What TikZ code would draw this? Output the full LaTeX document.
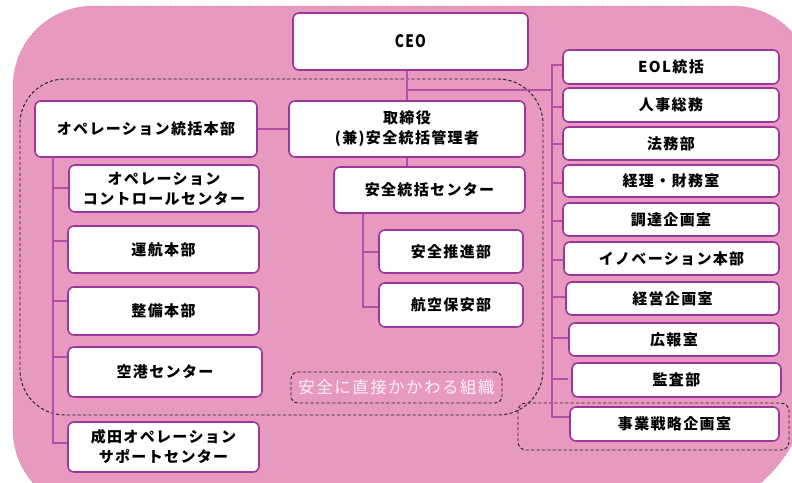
\documentclass[tikz,border=0pt]{standalone}
\usepackage{fontspec}
\usepackage{graphicx}
\setmainfont{Noto Sans CJK JP}
\newfontfamily\jp{Noto Sans CJK JP}[LetterSpace=9]
\definecolor{bgpink}{RGB}{232,153,192}
\definecolor{bgedge}{RGB}{212,128,172}
\definecolor{boxc}{RGB}{155,55,155}
\definecolor{linkc}{RGB}{176,80,168}
\definecolor{labc}{RGB}{253,240,247}
\definecolor{dashc}{RGB}{40,30,40}
\tikzset{
  box/.style={draw=boxc, line width=1.6pt, fill=white, rounded corners=6pt,
    inner sep=0pt, align=center, text=black,
    font=\jp\bfseries\fontsize{15}{20}\selectfont},
  link/.style={draw=linkc, line width=1.1pt},
  dashbox/.style={draw=dashc, line width=0.95pt, dash pattern=on 3.2pt off 2.2pt},
  labbox/.style={dashbox, rounded corners=7pt, inner sep=0pt, text=labc,
    font=\jp\fontsize{16.5}{20}\selectfont}
}
\begin{document}
\begin{tikzpicture}[x=1pt,y=-1pt]
\useasboundingbox (0,0) rectangle (792,482);
% background
\path[fill=bgpink, draw=bgedge, line width=0.7pt, dotted]
  (13,86) arc (180:270:80) -- (733,6) arc (270:360:80) -- (813,367)
  arc (0:90:155) -- (93,510) arc (90:180:80) -- cycle;
% dashed groups
\draw[dashbox, rounded corners=45pt] (20,79) rectangle (543,415);
\draw[dashbox, rounded corners=8pt] (518,403) rectangle (789,450);
\node[labbox, minimum width=211pt, minimum height=31pt] (lab) at (396.5,387.5) {安全に直接かかわる組織};
% nodes
\node[box, minimum width=235pt, minimum height=57pt] (ceo) at (410.5,41.5)
  {\resizebox{!}{13pt}{\scalebox{0.8}[1]{\bfseries CEO}}};
\node[box, minimum width=222pt, minimum height=56pt] (ops) at (146,129) {オペレーション統括本部};
\node[box, minimum width=236pt, minimum height=56pt] (tori) at (407,129) {取締役\\(兼)安全統括管理者};
\node[box, minimum width=190pt, minimum height=47pt] (occ) at (164,188.5) {オペレーション\\コントロールセンター};
\node[box, minimum width=191pt, minimum height=47pt] (unko) at (163.5,249.5) {運航本部};
\node[box, minimum width=191pt, minimum height=48pt] (seibi) at (163.5,311) {整備本部};
\node[box, minimum width=194pt, minimum height=50pt] (kuko) at (165,372) {空港センター};
\node[box, minimum width=191pt, minimum height=50pt] (narita) at (163.5,447) {成田オペレーション\\サポートセンター};
\node[box, minimum width=191pt, minimum height=46pt] (anzenc) at (429.5,190) {安全統括センター};
\node[box, minimum width=144pt, minimum height=43pt] (suishin) at (451,251.5) {安全推進部};
\node[box, minimum width=144pt, minimum height=44pt] (hoan) at (451,305) {航空保安部};
\node[box, minimum width=216pt, minimum height=34pt] (eol) at (671,67) {EOL統括};
\node[box, minimum width=216pt, minimum height=34pt] (jinji) at (671,105) {人事総務};
\node[box, minimum width=216pt, minimum height=33pt] (homu) at (671,143.5) {法務部};
\node[box, minimum width=216pt, minimum height=32pt] (keiri) at (671,181) {経理・財務室};
\node[box, minimum width=216pt, minimum height=33pt] (chotatsu) at (671,219.5) {調達企画室};
\node[box, minimum width=215pt, minimum height=33pt] (inno) at (671.5,258.5) {イノベーション本部};
\node[box, minimum width=213pt, minimum height=33pt] (keiei) at (672.5,298.5) {経営企画室};
\node[box, minimum width=210pt, minimum height=33pt] (koho) at (674,339.5) {広報室};
\node[box, minimum width=209pt, minimum height=34pt] (kansa) at (676.5,380) {監査部};
\node[box, minimum width=209pt, minimum height=34pt] (jigyo) at (674.5,424) {事業戦略企画室};
% connectors: centre
\draw[link] (ceo.south -| tori.north) -- (tori.north);
\draw[link] (tori.south) -- (tori.south |- anzenc.north);
\draw[link] (ops.east) -- (tori.west);
\coordinate (cjoin) at (407,90);
\coordinate (rtop) at (552,64);
\draw[link] (cjoin) -- (rtop |- cjoin);
% left tree
\coordinate (ltop) at (53,157);
\draw[link] (ltop) -- (53,443) -- (narita.west |- 0,443);
\draw[link] (53,188) -- (occ.west |- 0,188);
\draw[link] (53,241) -- (unko.west |- 0,241);
\draw[link] (53,301) -- (seibi.west |- 0,301);
\draw[link] (53,357) -- (kuko.west |- 0,357);
% safety centre tree
\draw[link] (anzenc.south -| 363,0) -- (363,307) -- (hoan.west |- 0,307);
\draw[link] (363,252) -- (suishin.west |- 0,252);
% right bus
\draw[link] (rtop) -- (552,417) -- (jigyo.west |- 0,417);
\draw[link] (552,65) -- (eol.west |- 0,65);
\draw[link] (552,107) -- (jinji.west |- 0,107);
\draw[link] (552,144) -- (homu.west |- 0,144);
\draw[link] (552,183) -- (keiri.west |- 0,183);
\draw[link] (552,221) -- (chotatsu.west |- 0,221);
\draw[link] (552,260) -- (inno.west |- 0,260);
\draw[link] (552,297) -- (keiei.west |- 0,297);
\draw[link] (552,338) -- (koho.west |- 0,338);
\coordinate (kstub) at (568,379);
\draw[link] (552,379) -- (kstub);
\end{tikzpicture}
\end{document}
